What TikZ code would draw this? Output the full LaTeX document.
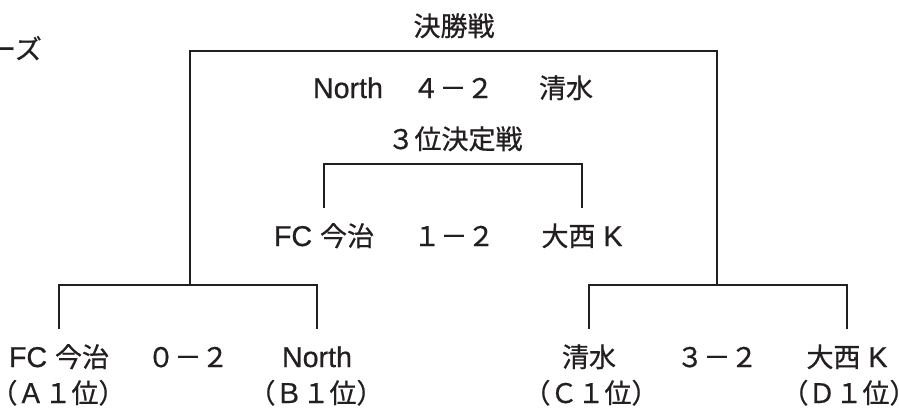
\documentclass[tikz,border=0pt]{standalone}
\usepackage{fontspec}
\setmainfont[Scale=1.06,FakeBold=0.6]{Liberation Sans}
\newfontfamily\jp[FakeBold=0.7]{Noto Sans CJK JP}
\definecolor{ink}{RGB}{35,31,32}
\begin{document}
\begin{tikzpicture}[x=1pt,y=-1pt]
		\newcommand{\lw}{1.7pt} % width of the bracket lines
		\newcommand{\botrow}{367} % baseline of the first round
		\newcommand{\rankrow}{403} % baseline of the group ranks
		\newcommand{\thirdrow}{246}
		\newcommand{\finrow}{98}

		% set the style of the team names and of the brackets
		\tikzset{
			team/.style={
				inner sep=0pt,
				anchor=base,
				text height=19pt,
				text depth=5pt,
				text=ink,
				font=\fontsize{27}{31}\selectfont\addfontfeature{FakeBold=0.7}
				},
			bracket/.style={
				draw=ink,
				line width=\lw,
				shorten <=19pt,
				shorten >=19pt
				},
			frame/.style={
				draw=ink,
				line width=\lw
				}
		}

		\useasboundingbox (0,0) rectangle (899,407);

		% cut off heading
		\node[team, anchor=base east] (head) at (42,59) {\jp ーズ};

		% first round
		\node[team] (fcA) at (59,\botrow) {FC {\jp 今治}};
		\node[team] (scoreAB) at (188,\botrow) {\jp ０－２};
		\node[team] (northB) at (317,\botrow) {North};
		\node[team] (shimizuC) at (589,\botrow) {\jp 清水};
		\node[team] (scoreCD) at (717,\botrow) {\jp ３－２};
		\node[team] (onishiD) at (847,\botrow) {{\jp 大西} K};

		% group ranks
		\node[team] (rankA) at (58,\rankrow) {\jp （Ａ１位）};
		\node[team] (rankB) at (316,\rankrow) {\jp （Ｂ１位）};
		\node[team] (rankC) at (591,\rankrow) {\jp （Ｃ１位）};
		\node[team] (rankD) at (849,\rankrow) {\jp （Ｄ１位）};

		% third place
		\node[team] (thirdTitle) at (455,149) {\jp ３位決定戦};
		\node[team] (fcThird) at (324,\thirdrow) {FC {\jp 今治}};
		\node[team] (scoreThird) at (454,\thirdrow) {\jp １－２};
		\node[team] (onishiThird) at (582,\thirdrow) {{\jp 大西} K};

		% final
		\node[team] (finTitle) at (454,36) {\jp 決勝戦};
		\node[team] (northFin) at (348,\finrow) {North};
		\node[team] (scoreFin) at (453,\finrow) {\jp ４－２};
		\node[team] (shimizuFin) at (566,\finrow) {\jp 清水};

		% junctions
		\coordinate (semiL) at (190,285);
		\coordinate (semiR) at (717,285);
		\coordinate (thirdTop) at (454,164);
		\coordinate (finTop) at (454,51);

		% brackets
		\draw[bracket] (fcA.north) |- (semiL) -| (northB.north);
		\draw[bracket] (shimizuC.north) |- (semiR) -| (onishiD.north);
		\draw[bracket] (fcThird.north) |- (thirdTop) -| (onishiThird.north);
		\draw[frame] (semiL) |- (finTop) -| (semiR);

\end{tikzpicture}
\end{document}
